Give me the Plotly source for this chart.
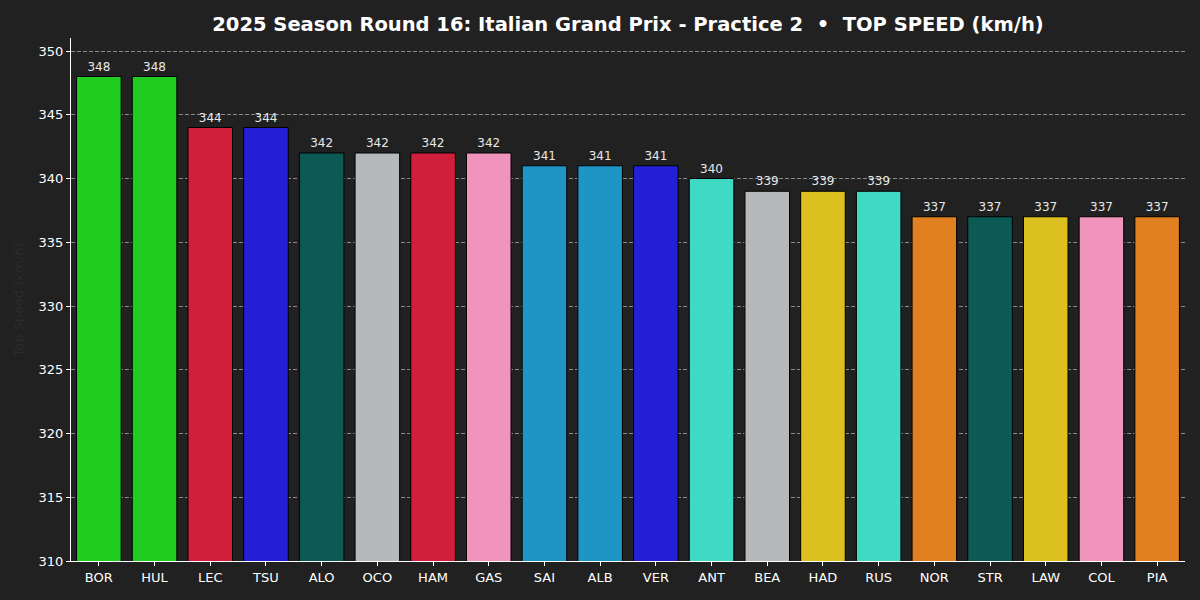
import plotly.graph_objects as go

drivers = ["BOR", "HUL", "LEC", "TSU", "ALO", "OCO", "HAM", "GAS", "SAI", "ALB",
           "VER", "ANT", "BEA", "HAD", "RUS", "NOR", "STR", "LAW", "COL", "PIA"]
top_speed = [348, 348, 344, 344, 342, 342, 342, 342, 341, 341,
             341, 340, 339, 339, 339, 337, 337, 337, 337, 337]
bar_colors = ["#1fcc1f", "#1fcc1f", "#cf1f3a", "#2420d6", "#0d5a55", "#b6b9bb",
              "#cf1f3a", "#f094be", "#1e95c4", "#1e95c4", "#2420d6", "#40dac4",
              "#b6b9bb", "#dcc020", "#40dac4", "#e08020", "#0d5a55", "#dcc020",
              "#f094be", "#e08020"]
y_ticks = [310, 315, 320, 325, 330, 335, 340, 345, 350]

BG = "#212121"
FONT = "DejaVu Sans"

fig = go.Figure()
fig.add_trace(go.Bar(
    x=list(range(len(drivers))),
    y=top_speed,
    marker=dict(color=bar_colors, line=dict(color="#000000", width=1)),
    width=0.8,
    text=[str(v) for v in top_speed],
    textposition="outside",
    textfont=dict(family=FONT, size=12, color="#e8e8e8"),
    cliponaxis=False,
    hoverinfo="x+y",
))

fig.update_layout(
    width=1200, height=600,
    paper_bgcolor=BG, plot_bgcolor=BG,
    margin=dict(l=71, r=15, t=38, b=39),
    font=dict(family=FONT, color="#ffffff", size=13),
    title=dict(
        text="<b>2025 Season Round 16: Italian Grand Prix - Practice 2  •  TOP SPEED (km/h)</b>",
        x=(71 + 1185) / 2 / 1200, xanchor="center",
        y=1 - 24 / 600, yanchor="middle",
        font=dict(family=FONT, size=19.5, color="#ffffff"),
    ),
    showlegend=False,
    bargap=0.2,
)

fig.update_xaxes(
    range=[-0.5, len(drivers) - 0.5],
    tickmode="array",
    tickvals=list(range(len(drivers))),
    ticktext=drivers,
    tickfont=dict(family=FONT, size=13, color="#ffffff"),
    showline=True, linecolor="#ffffff", linewidth=1,
    ticks="outside", ticklen=4, tickcolor="#ffffff",
    showgrid=False, zeroline=False,
)

fig.update_yaxes(
    range=[310, 351.02],
    tickmode="array",
    tickvals=y_ticks,
    ticktext=[str(v) for v in y_ticks],
    tickfont=dict(family=FONT, size=13, color="#ffffff"),
    showline=True, linecolor="#ffffff", linewidth=1,
    ticks="outside", ticklen=4, tickcolor="#ffffff",
    showgrid=True, gridcolor="#8a8a8a", griddash="4px,2px", gridwidth=1,
    zeroline=False,
    title=dict(text="Top Speed (km/h)", font=dict(family=FONT, size=13, color="#2c2c2c"), standoff=12),
)

fig.write_html("out.html")
